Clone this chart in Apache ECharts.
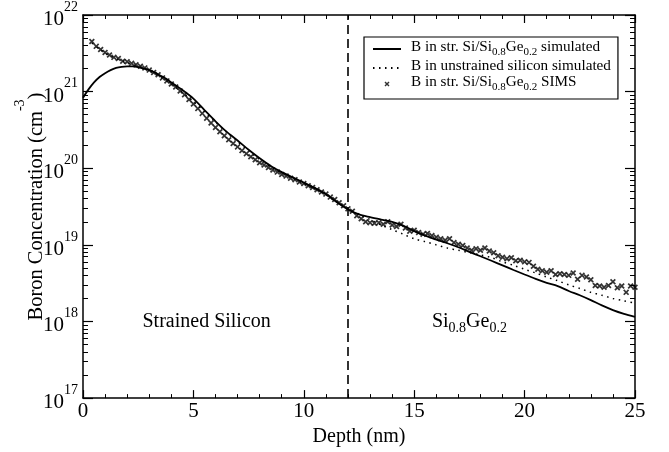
<!DOCTYPE html>
<html>
<head>
<meta charset="utf-8">
<script src="https://cdn.jsdelivr.net/npm/echarts@6/dist/echarts.min.js"></script>
<style>
html,body{margin:0;padding:0;background:#fff;}
#chart{width:669px;height:452px;}
</style>
</head>
<body>
<div id="chart"></div>
<script>
// ---------------- data ----------------
const solidName = 'B in str. Si/Si0.8Ge0.2 simulated';
const dottedName = 'B in unstrained silicon simulated';
const simsName = 'B in str. Si/Si0.8Ge0.2 SIMS';

const solidDepth = [0,0.25,0.5,0.75,1,1.25,1.5,1.75,2,2.25,2.5,2.75,3,3.25,3.5,3.75,4,4.5,5,5.5,6,6.5,7,7.5,8,8.5,9,9.5,10,10.5,11,11.5,12,12.5,13,13.5,14,14.5,15,15.5,16,16.5,17,17.5,18,18.5,19,19.5,20,20.5,21,21.5,22,22.5,23,23.5,24,24.5,25];
const solidConc = [8.3e20,1.07e21,1.32e21,1.55e21,1.74e21,1.91e21,2.04e21,2.11e21,2.14e21,2.14e21,2.09e21,2.0e21,1.91e21,1.78e21,1.62e21,1.48e21,1.32e21,1.05e21,8.1e20,5.75e20,4.1e20,3.0e20,2.3e20,1.74e20,1.35e20,1.07e20,8.9e19,7.6e19,6.5e19,5.5e19,4.6e19,3.6e19,2.9e19,2.5e19,2.3e19,2.14e19,2.0e19,1.78e19,1.51e19,1.32e19,1.17e19,1.05e19,9.3e18,8.1e18,7.1e18,6.2e18,5.4e18,4.7e18,4.1e18,3.6e18,3.2e18,2.9e18,2.5e18,2.2e18,1.9e18,1.62e18,1.41e18,1.26e18,1.15e18];

const dottedDepth = [0.4,0.8,1.2,1.6,2,2.5,3,3.5,4,4.5,5,5.5,6,6.5,7,7.5,8,8.5,9,9.5,10,10.5,11,11.5,12,12.5,13,13.5,14,14.5,15,15.5,16,16.5,17,17.5,18,18.5,19,19.5,20,20.5,21,21.5,22,22.5,23,23.5,24,24.5,25];
const dottedConc = [4.3e21,3.5e21,2.95e21,2.63e21,2.4e21,2.14e21,1.86e21,1.55e21,1.26e21,9.8e20,7.4e20,5.5e20,4.0e20,2.95e20,2.2e20,1.7e20,1.3e20,1.04e20,8.7e19,7.4e19,6.3e19,5.4e19,4.5e19,3.6e19,2.95e19,2.5e19,2.14e19,1.82e19,1.58e19,1.38e19,1.2e19,1.1e19,1.0e19,9.1e18,8.5e18,7.9e18,7.4e18,6.8e18,6.0e18,5.4e18,4.8e18,4.3e18,3.8e18,3.4e18,3.0e18,2.7e18,2.4e18,2.2e18,2.0e18,1.86e18,1.74e18];

const simsDepth = [0.4,0.6,0.8,1.0,1.2,1.4,1.6,1.8,2.0,2.2,2.4,2.6,2.8,3.0,3.2,3.4,3.6,3.8,4.0,4.2,4.4,4.6,4.8,5.0,5.2,5.4,5.6,5.8,6.0,6.2,6.4,6.6,6.8,7.0,7.2,7.4,7.6,7.8,8.0,8.2,8.4,8.6,8.8,9.0,9.2,9.4,9.6,9.8,10.0,10.2,10.4,10.6,10.8,11.0,11.2,11.4,11.6,11.8,12.0,12.2,12.4,12.6,12.8,13.0,13.2,13.4,13.6,13.8,14.0,14.2,14.4,14.6,14.8,15.0,15.2,15.4,15.6,15.8,16.0,16.2,16.4,16.6,16.8,17.0,17.2,17.4,17.6,17.8,18.0,18.2,18.4,18.6,18.8,19.0,19.2,19.4,19.6,19.8,20.0,20.2,20.4,20.6,20.8,21.0,21.2,21.4,21.6,21.8,22.0,22.2,22.4,22.6,22.8,23.0,23.2,23.4,23.6,23.8,24.0,24.2,24.4,24.6,24.8,25.0];
const simsConc = [4.5e21,3.9e21,3.55e21,3.24e21,3.0e21,2.8e21,2.7e21,2.5e21,2.45e21,2.34e21,2.24e21,2.14e21,2.04e21,1.91e21,1.78e21,1.66e21,1.51e21,1.38e21,1.26e21,1.15e21,1.02e21,9.1e20,7.9e20,6.9e20,6.0e20,5.2e20,4.5e20,3.9e20,3.4e20,3.0e20,2.65e20,2.35e20,2.1e20,1.9e20,1.7e20,1.55e20,1.41e20,1.29e20,1.18e20,1.1e20,1.02e20,9.5e19,8.9e19,8.3e19,7.9e19,7.4e19,7.1e19,6.6e19,6.3e19,5.9e19,5.6e19,5.25e19,4.9e19,4.6e19,4.2e19,3.9e19,3.55e19,3.24e19,2.95e19,2.75e19,2.4e19,2.19e19,2.0e19,1.95e19,1.91e19,1.95e19,1.86e19,2.0e19,1.82e19,1.74e19,1.86e19,1.66e19,1.51e19,1.55e19,1.45e19,1.38e19,1.41e19,1.32e19,1.26e19,1.2e19,1.15e19,1.2e19,1.07e19,1.02e19,9.8e18,9.1e18,8.5e18,8.9e18,8.5e18,9.1e18,8.3e18,7.9e18,7.2e18,6.9e18,6.6e18,6.8e18,6.2e18,6.3e18,6.0e18,5.9e18,5.25e18,4.8e18,4.6e18,4.4e18,4.6e18,4.1e18,4.2e18,4.1e18,4.0e18,4.3e18,3.55e18,4.0e18,3.8e18,3.5e18,2.95e18,2.9e18,2.8e18,2.95e18,3.3e18,2.75e18,2.9e18,2.4e18,2.9e18,2.8e18];

const interfaceDepth = 12;
const xTicks = [0,5,10,15,20,25];
const yDecadeExponents = [17,18,19,20,21,22];
const annotationText = ['Strained Silicon', 'Si0.8Ge0.2'];
const annotationDepth = [5.6, 17.5];
const annotationConc = [9.4e17, 9.4e17];

// --------------- styling helpers ---------------
const FONT = 'Liberation Serif';
const zip = (a, b) => a.map((v, i) => [v, b[i]]);
const yMinorTicks = [];
yDecadeExponents.slice(0, -1).forEach(e => {
  for (let m = 2; m <= 9; m++) yMinorTicks.push(m * Math.pow(10, e));
});
const yMajorTicks = yDecadeExponents.map(e => Math.pow(10, e));

// rich text with subscripts for Si0.8Ge0.2
function subRich(str) {
  return ('{t|' + str + '}').replace(/Si0\.8Ge0\.2/g, 'Si}{sub|0.8}{t|Ge}{sub|0.2}{t|').replace(/\{t\|\}/g, '');
}
const crossPath = 'path://M0,2L2,0L5,3L8,0L10,2L7,5L10,8L8,10L5,7L2,10L0,8L3,5Z';
const legendCross = 'path://M0,0L0.01,0L0,0.01ZM56,24L55.99,24L56,23.99ZM23,9L25,7L28,10L31,7L33,9L30,12L33,15L31,17L28,14L25,17L23,15L26,12Z';

const chart = echarts.init(document.getElementById('chart'), null, {renderer: 'canvas'});

const axisLineStyle = {color: '#000', width: 1.5};
const xAxisBase = {
  type: 'value', min: 0, max: 25, interval: 5,
  axisLine: {show: true, onZero: false, lineStyle: axisLineStyle},
  axisTick: {show: true, inside: true, length: 8, lineStyle: {color: '#000', width: 1.2}, customValues: xTicks},
  minorTick: {show: true, splitNumber: 5, length: 4, lineStyle: {color: '#000', width: 1}},
  splitLine: {show: false}
};
const yAxisMajor = (pos, labels) => ({
  type: 'log', logBase: 10, min: 1e17, max: 1e22, interval: 1, position: pos,
  axisLine: {show: true, lineStyle: axisLineStyle},
  axisTick: {show: true, inside: true, length: 10, lineStyle: {color: '#000', width: 1.2}, customValues: yMajorTicks},
  splitLine: {show: false},
  axisLabel: labels ? {
    show: true, margin: 5, customValues: yMajorTicks,
    formatter: v => '{b|10}{s|' + Math.round(Math.log10(v)) + '}',
    rich: {
      b: {fontFamily: FONT, fontSize: 21, color: '#000', lineHeight: 30, verticalAlign: 'bottom'},
      s: {fontFamily: FONT, fontSize: 14, color: '#000', lineHeight: 12, verticalAlign: 'top'}
    }
  } : {show: false}
});
const yAxisMinor = pos => ({
  type: 'log', logBase: 10, min: 1e17, max: 1e22, interval: 1, position: pos,
  axisLine: {show: false},
  axisTick: {show: true, inside: true, length: 5, lineStyle: {color: '#000', width: 1}, customValues: yMinorTicks},
  axisLabel: {show: false}, splitLine: {show: false}
});

const yMain = yAxisMajor('left', true);
yMain.name = '{a|Boron Concentration (cm}{s|-3}{a|)}';
yMain.nameLocation = 'middle';
yMain.nameGap = 36;
yMain.nameMoveOverlap = false;
yMain.nameTextStyle = {
  rich: {
    a: {fontFamily: FONT, fontSize: 20.5, color: '#000', lineHeight: 34, verticalAlign: 'bottom'},
    s: {fontFamily: FONT, fontSize: 14, color: '#000', lineHeight: 12, verticalAlign: 'top'}
  }
};

const option = {
  animation: false,
  backgroundColor: '#fff',
  grid: {left: 83, right: 34, top: 14, bottom: 53, containLabel: false},
  xAxis: [
    Object.assign({}, xAxisBase, {
      position: 'bottom',
      axisLabel: {show: true, margin: 3, fontFamily: FONT, fontSize: 21, color: '#000', customValues: xTicks},
      name: 'Depth (nm)', nameLocation: 'middle', nameGap: 27,
      nameTextStyle: {fontFamily: FONT, fontSize: 20, color: '#000'}
    }),
    Object.assign({}, xAxisBase, {position: 'top', axisLabel: {show: false}})
  ],
  yAxis: [yMain, yAxisMinor('left'), yAxisMajor('right', false), yAxisMinor('right')],
  legend: {
    orient: 'vertical', left: 364, top: 37,
    borderColor: '#000', borderWidth: 1.2, borderRadius: 0,
    padding: [3, 7, 6, 8], itemGap: 1, itemWidth: 28, itemHeight: 12,
    data: [
      {name: solidName, itemStyle: {opacity: 0}},
      {name: dottedName, itemStyle: {opacity: 0}},
      {name: simsName, icon: legendCross}
    ],
    formatter: name => subRich(name),
    textStyle: {
      padding: [0, 0, 0, 5],
      rich: {
        t: {fontFamily: FONT, fontSize: 15.2, color: '#000', lineHeight: 18, verticalAlign: 'top'},
        sub: {fontFamily: FONT, fontSize: 11, color: '#000', lineHeight: 10, verticalAlign: 'bottom'}
      }
    }
  },
  series: [
    {
      name: solidName, type: 'line', xAxisIndex: 0, yAxisIndex: 0,
      data: zip(solidDepth, solidConc), symbol: 'none', smooth: 0.3,
      lineStyle: {color: '#000', width: 1.8}, itemStyle: {color: '#000'},
      markLine: {
        silent: true, symbol: ['none', 'none'], label: {show: false},
        lineStyle: {color: '#000', width: 1.6, type: [9, 5]},
        data: [{xAxis: interfaceDepth}]
      }
    },
    {
      name: dottedName, type: 'line', xAxisIndex: 0, yAxisIndex: 0,
      data: zip(dottedDepth, dottedConc), symbol: 'none', smooth: 0.3,
      lineStyle: {color: '#000', width: 1.5, type: [1.5, 4.5]}, itemStyle: {color: '#000'}
    },
    {
      name: simsName, type: 'scatter', xAxisIndex: 0, yAxisIndex: 0,
      data: zip(simsDepth, simsConc), symbol: crossPath, symbolSize: 6,
      itemStyle: {color: '#000'}
    }
  ]
};
chart.setOption(option);

// annotations placed through the chart's own coordinate conversion
const annRich = {
  t: {fontFamily: FONT, fontSize: 20, fill: '#000', lineHeight: 24, verticalAlign: 'top'},
  sub: {fontFamily: FONT, fontSize: 14, fill: '#000', lineHeight: 12, verticalAlign: 'bottom'}
};
const graphics = annotationText.map((txt, i) => {
  const p = chart.convertToPixel({xAxisIndex: 0, yAxisIndex: 0}, [annotationDepth[i], annotationConc[i]]);
  return {
    type: 'text', x: p[0], y: p[1], silent: true,
    style: {text: subRich(txt), rich: annRich, align: 'center', verticalAlign: 'middle', fill: '#000'}
  };
});
chart.setOption({graphic: graphics});
</script>
</body>
</html>
